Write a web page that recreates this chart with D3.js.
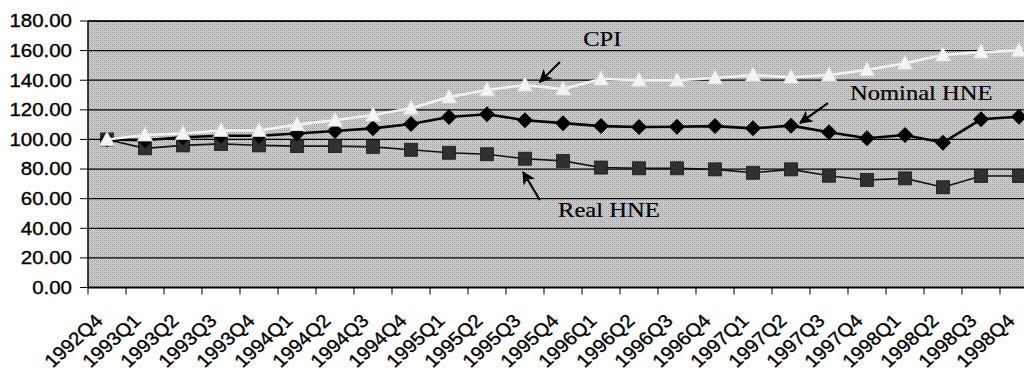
<!DOCTYPE html>
<html>
<head>
<meta charset="utf-8">
<script src="https://cdn.jsdelivr.net/npm/d3@7/dist/d3.min.js"></script>
<style>
  html, body { margin: 0; padding: 0; background: #fff; }
  svg { display: block; }
  .sans { font-family: "Liberation Sans", Arial, sans-serif; }
  .serif { font-family: "Liberation Serif", "Times New Roman", serif; }
</style>
</head>
<body>
<svg id="chart" width="1024" height="371"></svg>
<script>
// Quarterly indices, 1992Q4 = 100
const quarters = [
  "1992Q4","1993Q1","1993Q2","1993Q3","1993Q4","1994Q1","1994Q2","1994Q3","1994Q4",
  "1995Q1","1995Q2","1995Q3","1995Q4","1996Q1","1996Q2","1996Q3","1996Q4",
  "1997Q1","1997Q2","1997Q3","1997Q4","1998Q1","1998Q2","1998Q3","1998Q4"
];
const cpi = [100, 103, 104, 106, 106, 110, 113, 116.5, 121, 128.7, 133.4, 136.8, 134,
  140.8, 140, 140, 141.5, 143.5, 142, 143.5, 147, 151.5, 157, 159, 160];
const nominalHNE = [100, 99.5, 101.5, 102.5, 102.5, 104, 105.7, 107.5, 110.4, 115.2, 117,
  113, 111, 109, 108.4, 108.6, 109, 107.5, 109.3, 104.8, 100.8, 103, 97.8, 113.6, 115.4];
const realHNE = [100, 94, 96, 97, 96, 95.5, 95.5, 95, 93, 91, 90, 87, 85.5, 81, 80.5,
  80.5, 79.8, 77.5, 79.8, 75.5, 72.6, 73.7, 67.7, 75.3, 75.3];
const yTicks = [0, 20, 40, 60, 80, 100, 120, 140, 160, 180];

// Callouts: text anchor and arrow, in (quarter index, index value) units
const callouts = [
  { text: "CPI",         at: [12.53, 163.1], from: [11.92, 152.3], tip: [11.39, 138.8] },
  { text: "Nominal HNE", at: [19.55, 126.6], from: [18.97, 124.6], tip: [18.24, 111.1] },
  { text: "Real HNE",    at: [11.87, 47.6],  from: [11.39, 59.1],  tip: [10.95, 78.0] }
];

const svg = d3.select("#chart");
const plot = { left: 88, top: 21, right: 1038, bottom: 287.5 };
const stretch = 1.17;   // wide lettering

const x = d3.scaleBand().domain(quarters).range([plot.left, plot.right]).padding(0);
const xc = q => x(q) + x.bandwidth() / 2;
const xi = d3.scaleLinear().domain([0, quarters.length - 1]).range([xc(quarters[0]), xc(quarters[quarters.length - 1])]);
const y = d3.scaleLinear().domain([0, 180]).range([plot.bottom, plot.top]);

// dithered grey plot background
const defs = svg.append("defs");
const pat = defs.append("pattern").attr("id", "dither")
  .attr("width", 2).attr("height", 2).attr("patternUnits", "userSpaceOnUse");
pat.append("rect").attr("width", 2).attr("height", 2).attr("fill", "#d8d8d8");
pat.append("rect").attr("x", 0).attr("y", 0).attr("width", 1).attr("height", 1).attr("fill", "#969696");
pat.append("rect").attr("x", 1).attr("y", 1).attr("width", 1).attr("height", 1).attr("fill", "#b8b8b8");

defs.append("marker").attr("id", "head")
  .attr("viewBox", "0 0 10 10").attr("refX", 9).attr("refY", 5)
  .attr("markerWidth", 6).attr("markerHeight", 6).attr("markerUnits", "strokeWidth")
  .attr("orient", "auto")
  .append("path").attr("d", "M0,0 L10,5 L0,10 L2.5,5 Z").attr("fill", "#000");

svg.append("rect")
  .attr("x", plot.left).attr("y", plot.top)
  .attr("width", plot.right - plot.left).attr("height", plot.bottom - plot.top)
  .attr("fill", "url(#dither)");

// horizontal gridlines
svg.append("g").selectAll("line").data(yTicks.filter(d => d > 0)).join("line")
  .attr("x1", plot.left).attr("x2", plot.right)
  .attr("y1", d => y(d)).attr("y2", d => y(d))
  .attr("stroke", "#000").attr("stroke-width", 1.2);

// y axis
const yAxis = svg.append("g");
yAxis.append("line").attr("x1", plot.left).attr("x2", plot.left)
  .attr("y1", plot.top).attr("y2", plot.bottom).attr("stroke", "#000").attr("stroke-width", 1.5);
yAxis.selectAll("line.tick").data(yTicks).join("line").attr("class", "tick")
  .attr("x1", plot.left - 8).attr("x2", plot.left)
  .attr("y1", d => y(d)).attr("y2", d => y(d)).attr("stroke", "#000");
yAxis.selectAll("text").data(yTicks).join("text").attr("class", "sans")
  .attr("transform", d => `translate(${plot.left - 16},${y(d)}) scale(${stretch},1)`)
  .attr("text-anchor", "end").attr("dy", "0.36em")
  .attr("font-size", 17.5)
  .attr("fill", "#000").attr("stroke", "#000").attr("stroke-width", 0.35)
  .text(d => d3.format(".2f")(d));

// x axis
const xAxis = svg.append("g");
xAxis.append("line").attr("x1", plot.left).attr("x2", plot.right)
  .attr("y1", plot.bottom).attr("y2", plot.bottom).attr("stroke", "#000").attr("stroke-width", 2);
const bounds = quarters.map(q => x(q)).concat([plot.right]);
xAxis.selectAll("line.tick").data(bounds).join("line").attr("class", "tick")
  .attr("x1", d => d).attr("x2", d => d)
  .attr("y1", plot.bottom).attr("y2", plot.bottom + 7).attr("stroke", "#000");
xAxis.selectAll("text").data(quarters).join("text").attr("class", "sans")
  .attr("transform", q => `translate(${xc(q) - 3},${plot.bottom + 34.5}) scale(1.1,1) rotate(-45)`)
  .attr("text-anchor", "end")
  .attr("font-size", 18.5)
  .attr("fill", "#000").attr("stroke", "#000").attr("stroke-width", 0.35)
  .text(q => q);

// top frame
svg.append("line").attr("x1", plot.left).attr("x2", plot.right)
  .attr("y1", plot.top).attr("y2", plot.top).attr("stroke", "#000").attr("stroke-width", 1.5);

const line = d3.line().x((d, i) => xc(quarters[i])).y(d => y(d));

// Real HNE: dark squares
svg.append("path").datum(realHNE).attr("d", line)
  .attr("fill", "none").attr("stroke", "#111").attr("stroke-width", 1.6);
svg.append("g").selectAll("rect").data(realHNE).join("rect")
  .attr("x", (d, i) => xc(quarters[i]) - 6.5).attr("y", d => y(d) - 6.5)
  .attr("width", 13).attr("height", 13)
  .attr("fill", "#303030").attr("stroke", "#1a1a1a").attr("stroke-width", 0.8);

// Nominal HNE: black diamonds
svg.append("path").datum(nominalHNE).attr("d", line)
  .attr("fill", "none").attr("stroke", "#000").attr("stroke-width", 2.6);
svg.append("g").selectAll("path").data(nominalHNE).join("path")
  .attr("transform", (d, i) => `translate(${xc(quarters[i])},${y(d)})`)
  .attr("d", "M0,-8 L8,0 L0,8 L-8,0 Z")
  .attr("fill", "#000");

// CPI: white triangles
svg.append("path").datum(cpi).attr("d", line)
  .attr("fill", "none").attr("stroke", "#f2f2f2").attr("stroke-width", 2.6);
svg.append("g").selectAll("path").data(cpi).join("path")
  .attr("transform", (d, i) => `translate(${xc(quarters[i])},${y(d)})`)
  .attr("d", "M0,-8 L7.5,6 L-7.5,6 Z")
  .attr("fill", "#f4f4f4").attr("stroke", "#dcdcdc").attr("stroke-width", 0.8);

// callouts
const notes = svg.append("g");
notes.selectAll("line").data(callouts).join("line")
  .attr("x1", d => xi(d.from[0])).attr("y1", d => y(d.from[1]))
  .attr("x2", d => xi(d.tip[0])).attr("y2", d => y(d.tip[1]))
  .attr("stroke", "#000").attr("stroke-width", 2.2)
  .attr("marker-end", "url(#head)");
notes.selectAll("text").data(callouts).join("text").attr("class", "serif")
  .attr("transform", d => `translate(${xi(d.at[0])},${y(d.at[1])}) scale(1.2,1)`)
  .attr("font-size", 20.5)
  .attr("fill", "#000").attr("stroke", "#000").attr("stroke-width", 0.2)
  .text(d => d.text);
</script>
</body>
</html>
